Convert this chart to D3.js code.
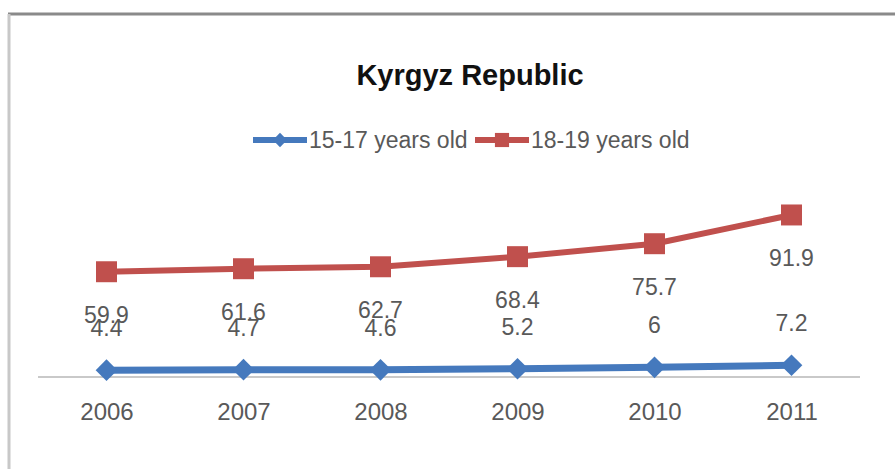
<!DOCTYPE html>
<html>
<head>
<meta charset="utf-8">
<script src="https://cdn.jsdelivr.net/npm/d3@7"></script>
<style>
  body { margin: 0; background: #fff; }
  svg { display: block; }
  .lbl { font-family: "Liberation Sans", Arial, sans-serif; fill: #595959; }
</style>
</head>
<body>
<script>
// data
const years = ["2006", "2007", "2008", "2009", "2010", "2011"];
const teens = [4.4, 4.7, 4.6, 5.2, 6, 7.2];        // 15-17 years old
const adults = [59.9, 61.6, 62.7, 68.4, 75.7, 91.9]; // 18-19 years old
const seriesNames = ["15-17 years old", "18-19 years old"];

const W = 895, H = 469;
const blue = "#4579BD", red = "#C0504D";

const svg = d3.select("body").append("svg")
    .attr("width", W)
    .attr("height", H);

// frame (the picture is cut from a slide)
svg.append("rect").attr("width", W).attr("height", H).attr("fill", "#fff");
svg.append("line").attr("x1", 8).attr("x2", W).attr("y1", 14).attr("y2", 14)
    .attr("stroke", "#8a8a8a").attr("stroke-width", 3);
svg.append("line").attr("x1", 9).attr("x2", 9).attr("y1", 14).attr("y2", H)
    .attr("stroke", "#c8c8c8").attr("stroke-width", 3);

const x = d3.scalePoint().domain(years).range([38, 860]).padding(0.5);
const y = d3.scaleLinear().domain([0, 100]).range([378, 200.6]);

// title
svg.append("text")
    .attr("x", 470).attr("y", 85)
    .attr("text-anchor", "middle")
    .style("font-family", "'Liberation Sans', Arial, sans-serif")
    .style("font-weight", "bold")
    .style("font-size", "29px")
    .style("fill", "#111")
    .text("Kyrgyz Republic");

// x axis
const xAxis = svg.append("g")
    .attr("transform", `translate(0,${y(0) - 1})`)
    .call(d3.axisBottom(x).tickSize(0).tickPadding(26));
xAxis.select(".domain").attr("stroke", "#c9c9c9").attr("stroke-width", 2)
    .attr("d", "M38,0H860");
xAxis.selectAll("text")
    .attr("class", "lbl")
    .style("font-size", "24px")
    .attr("fill", null);

const diamond = d3.symbol().type(d3.symbolDiamond2).size(300);
const square = d3.symbol().type(d3.symbolSquare).size(440);

const line = d3.line().x((d, i) => x(years[i])).y(d => y(d));

// 18-19 series
svg.append("path").datum(adults)
    .attr("d", line).attr("fill", "none")
    .attr("stroke", red).attr("stroke-width", 6);
svg.selectAll(".sq").data(adults).enter().append("path")
    .attr("class", "sq")
    .attr("d", square)
    .attr("transform", (d, i) => `translate(${x(years[i])},${y(d)})`)
    .attr("fill", red);

// 15-17 series
svg.append("path").datum(teens)
    .attr("d", line).attr("fill", "none")
    .attr("stroke", blue).attr("stroke-width", 7);
svg.selectAll(".dm").data(teens).enter().append("path")
    .attr("class", "dm")
    .attr("d", diamond)
    .attr("transform", (d, i) => `translate(${x(years[i])},${y(d)})`)
    .attr("fill", blue);

// data labels (they collide in the original too)
svg.selectAll(".la").data(adults).enter().append("text")
    .attr("class", "lbl")
    .attr("x", (d, i) => x(years[i]))
    .attr("y", d => y(d) + 51)
    .attr("text-anchor", "middle")
    .style("font-size", "23px")
    .text(d => d);
svg.selectAll(".lt").data(teens).enter().append("text")
    .attr("class", "lbl")
    .attr("x", (d, i) => x(years[i]))
    .attr("y", d => y(d) - 34)
    .attr("text-anchor", "middle")
    .style("font-size", "23px")
    .text(d => d);

// legend
const legend = [
  { name: seriesNames[0], color: blue, x: 253 },
  { name: seriesNames[1], color: red, x: 475 }
];
const lg = svg.selectAll(".legend").data(legend).enter().append("g")
    .attr("class", "legend")
    .attr("transform", d => `translate(${d.x},140)`);
lg.append("line").attr("x1", 0).attr("x2", 54)
    .attr("stroke", d => d.color).attr("stroke-width", 6);
lg.append("path")
    .attr("d", (d, i) => i === 0 ? d3.symbol().type(d3.symbolDiamond2).size(130)() : d3.symbol().type(d3.symbolSquare).size(200)())
    .attr("transform", "translate(27,0)")
    .attr("fill", d => d.color);
lg.append("text")
    .attr("class", "lbl")
    .attr("x", 56).attr("y", 8)
    .style("font-size", "23px")
    .text(d => d.name);
</script>
</body>
</html>
